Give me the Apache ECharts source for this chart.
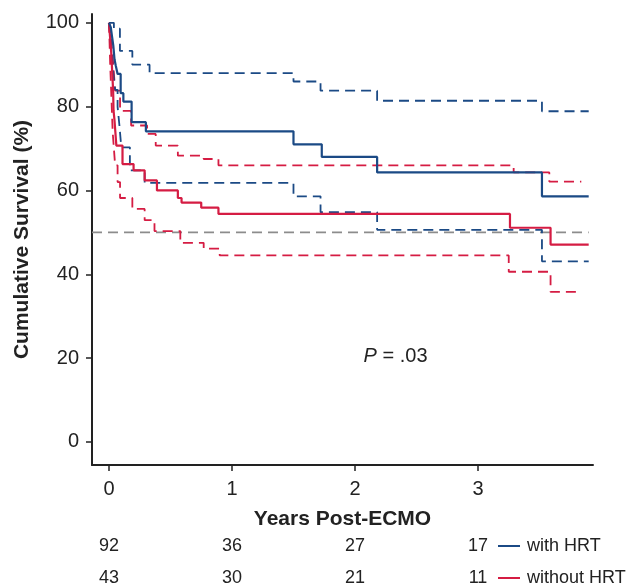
<!DOCTYPE html>
<html>
<head>
<meta charset="utf-8">
<script src="https://cdn.jsdelivr.net/npm/echarts@6/dist/echarts.min.js"></script>
<style>
  html, body { margin: 0; padding: 0; background: #fff; }
  #main { width: 631px; height: 588px; }
</style>
</head>
<body>
<div id="main"></div>
<script>
// survival steps (years, %)
const withHrtT = [0, 0.015, 0.025, 0.035, 0.045, 0.055, 0.07, 0.095, 0.117, 0.184, 0.30, 1.50, 1.73, 2.18, 3.52, 3.90];
const withHrtS = [100, 98.9, 96.7, 94.6, 91.3, 89.8, 87.8, 83.2, 81.2, 76.3, 74.1, 71.0, 68.0, 64.3, 58.6, 58.6];
const withHrtUpT = [0, 0.04, 0.089, 0.19, 0.33, 1.50, 1.72, 2.18, 3.52, 3.90];
const withHrtUpS = [100, 98.6, 93.3, 90.0, 88.0, 86.0, 83.8, 81.4, 78.9, 78.9];
const withHrtLoT = [0, 0.01, 0.02, 0.035, 0.05, 0.07, 0.085, 0.10, 0.17, 0.29, 1.50, 1.72, 2.18, 3.52, 3.90];
const withHrtLoS = [100, 97, 93, 88, 84, 80, 75.5, 70.3, 64.8, 61.8, 58.6, 54.8, 50.6, 43.1, 43.1];

const withoutT = [0, 0.006, 0.012, 0.018, 0.022, 0.026, 0.030, 0.034, 0.037, 0.045, 0.06, 0.11, 0.20, 0.29, 0.39, 0.56, 0.59, 0.75, 0.89, 3.26, 3.59, 3.90];
const withoutS = [100, 97.7, 95.3, 93.0, 90.7, 88.4, 86.0, 83.7, 79.1, 76.7, 70.7, 66.3, 64.8, 62.4, 60.0, 58.2, 57.1, 55.9, 54.4, 51.1, 47.1, 47.1];
const withoutUpT = [0, 0.01, 0.02, 0.03, 0.04, 0.05, 0.09, 0.18, 0.31, 0.38, 0.56, 0.77, 0.89, 3.29, 3.58, 3.84];
const withoutUpS = [100, 98, 95, 92, 88, 83.8, 79.0, 75.5, 73.5, 70.7, 68.3, 67.5, 66.0, 64.3, 62.1, 62.1];
const withoutLoT = [0, 0.005, 0.01, 0.015, 0.02, 0.025, 0.03, 0.04, 0.05, 0.07, 0.09, 0.19, 0.29, 0.37, 0.58, 0.77, 0.90, 3.25, 3.59, 3.84];
const withoutLoS = [100, 95, 90, 86, 82, 78, 74, 70, 66, 62, 58.2, 55.6, 52.9, 50.3, 47.5, 46.1, 44.5, 40.6, 35.8, 35.8];

const medianLine = [50, 50];
const xTicks = [0, 1, 2, 3];
const yTicks = [0, 20, 40, 60, 80, 100];

// numbers at risk
const riskTimes = [0, 1, 2, 3];
const withHrtRisk = [92, 36, 27, 17];
const withoutRisk = [43, 30, 21, 11];
const groupNames = ['with HRT', 'without HRT'];

const BLUE = '#1b4a85';
const RED = '#d51c43';
const XMIN = -0.138, XMAX = 3.935;
const YMIN = -5.5, YMAX = 102.1;
const FONT = '"Liberation Sans", Arial, sans-serif';

function pairs(t, s) {
  return t.map((v, i) => [v, s[i]]);
}
function stepSeries(t, s, color, dashed) {
  return {
    type: 'line',
    step: 'end',
    symbol: 'none',
    silent: true,
    data: pairs(t, s),
    lineStyle: { color: color, width: dashed ? 1.8 : 2.2, type: dashed ? [10, 6] : 'solid' }
  };
}

const chart = echarts.init(document.getElementById('main'));
chart.setOption({
  animation: false,
  grid: { left: 92, right: 38, top: 14, bottom: 123, containLabel: false, outerBoundsMode: 'none' },
  xAxis: {
    type: 'value', min: XMIN, max: XMAX,
    name: 'Years Post-ECMO', nameLocation: 'middle', nameGap: 44,
    nameTextStyle: { fontFamily: FONT, fontSize: 21, fontWeight: 'bold', color: '#222' },
    axisLine: { show: true, onZero: false, lineStyle: { color: '#222', width: 2 } },
    axisTick: { show: true, length: 6, customValues: xTicks, lineStyle: { color: '#222', width: 1.5 } },
    axisLabel: { customValues: xTicks, margin: 14, fontFamily: FONT, fontSize: 20, color: '#222' },
    splitLine: { show: false }
  },
  yAxis: {
    type: 'value', min: YMIN, max: YMAX,
    name: 'Cumulative Survival (%)', nameLocation: 'middle', nameGap: 59,
    nameTextStyle: { fontFamily: FONT, fontSize: 21, fontWeight: 'bold', color: '#222' },
    axisLine: { show: true, onZero: false, lineStyle: { color: '#222', width: 2 } },
    axisTick: { show: true, length: 6, customValues: yTicks, lineStyle: { color: '#222', width: 1.5 } },
    axisLabel: { customValues: yTicks, margin: 13, fontFamily: FONT, fontSize: 20, color: '#222' },
    splitLine: { show: false }
  },
  series: [
    {
      type: 'line', symbol: 'none', silent: true,
      data: [[XMIN, medianLine[0]], [3.90, medianLine[1]]],
      lineStyle: { color: '#8c8c8c', width: 1.8, type: [10, 6] }
    },
    stepSeries(withoutUpT, withoutUpS, RED, true),
    stepSeries(withoutLoT, withoutLoS, RED, true),
    stepSeries(withHrtUpT, withHrtUpS, BLUE, true),
    stepSeries(withHrtLoT, withHrtLoS, BLUE, true),
    stepSeries(withoutT, withoutS, RED, false),
    stepSeries(withHrtT, withHrtS, BLUE, false)
  ]
});

// at-risk table, legend and P value placed through the axes
const graphics = [];
const rowY = [546, 578];
[withHrtRisk, withoutRisk].forEach((row, r) => {
  row.forEach((n, i) => {
    const px = chart.convertToPixel({ gridIndex: 0 }, [riskTimes[i], 0])[0];
    graphics.push({
      type: 'text', x: px, y: rowY[r],
      style: { text: String(n), font: '18px ' + FONT, fill: '#222', align: 'center', verticalAlign: 'middle' }
    });
  });
  const lx = chart.convertToPixel({ gridIndex: 0 }, [riskTimes[riskTimes.length - 1], 0])[0] + 20;
  graphics.push({
    type: 'line', shape: { x1: lx, y1: rowY[r], x2: lx + 22, y2: rowY[r] },
    style: { stroke: r === 0 ? BLUE : RED, lineWidth: 2 }
  });
  graphics.push({
    type: 'text', x: lx + 29, y: rowY[r],
    style: { text: groupNames[r], font: '18px ' + FONT, fill: '#222', align: 'left', verticalAlign: 'middle' }
  });
});
const pPos = chart.convertToPixel({ gridIndex: 0 }, [2.07, 20.5]);
graphics.push({
  type: 'text', x: pPos[0], y: pPos[1],
  style: {
    text: '{i|P} = .03',
    font: '20px ' + FONT, fill: '#222', verticalAlign: 'middle',
    rich: { i: { fontStyle: 'italic', fontFamily: FONT, fontSize: 20, fill: '#222' } }
  }
});
chart.setOption({ graphic: graphics });
</script>
</body>
</html>
